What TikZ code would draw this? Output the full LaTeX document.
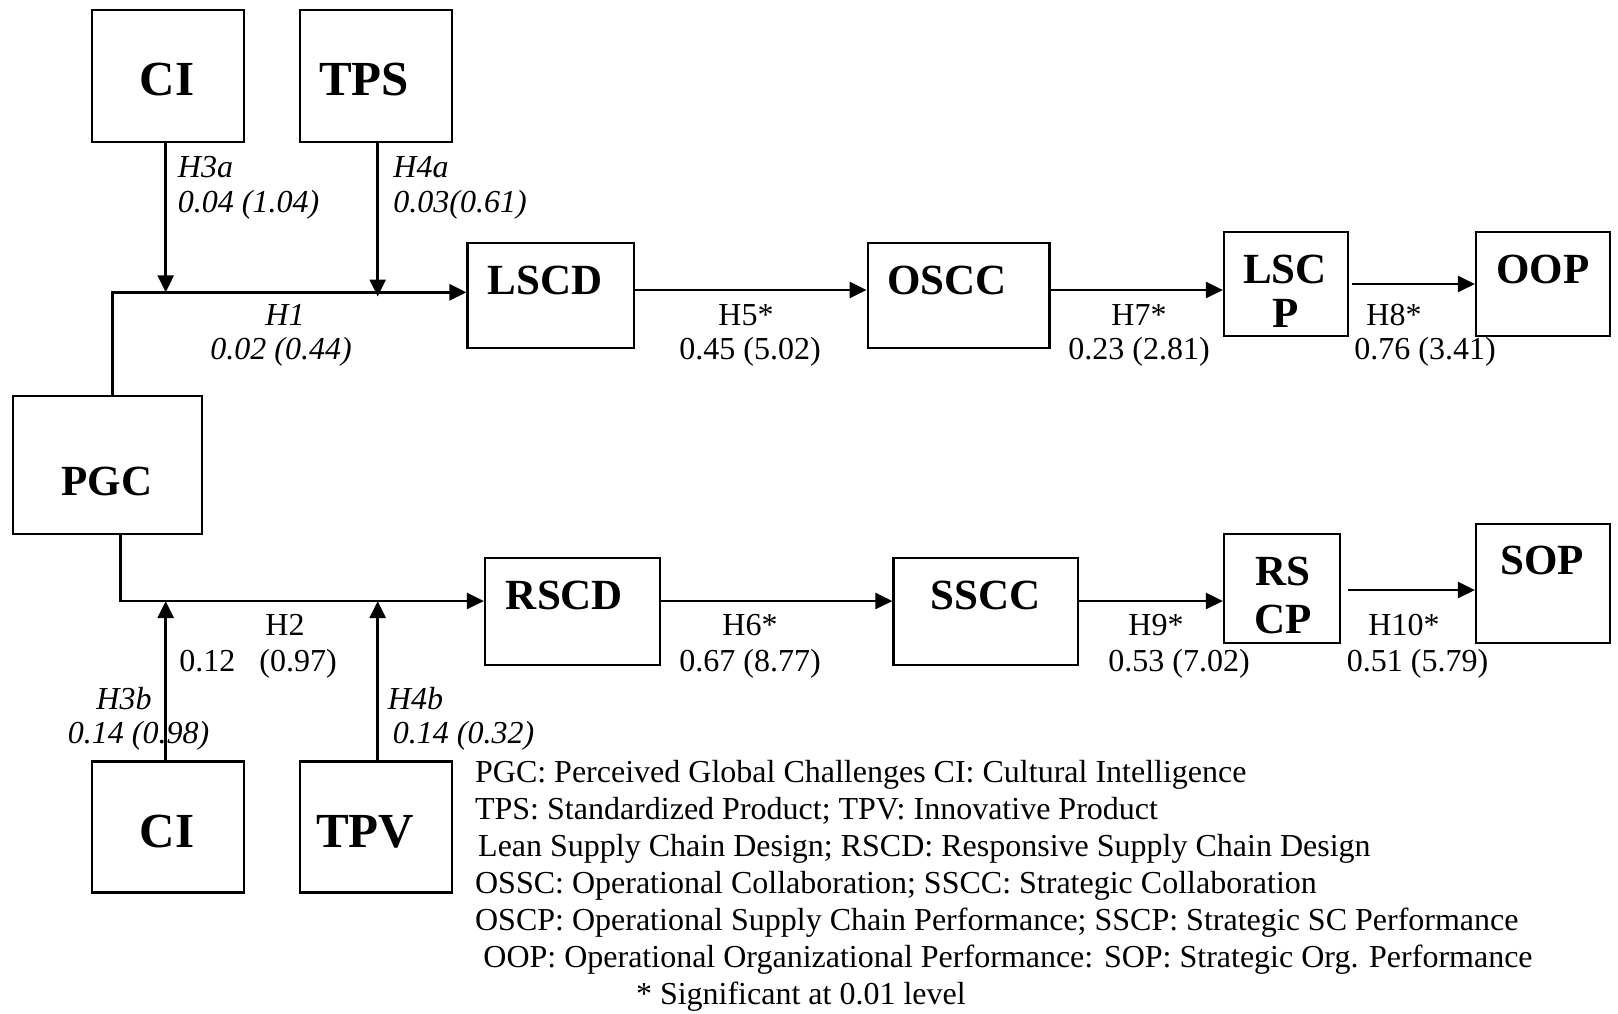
\documentclass[tikz,border=0pt]{standalone}
\usepackage{fontspec}
\setmainfont{Liberation Serif}
\usetikzlibrary{arrows.meta}

\begin{document}
\begin{tikzpicture}[x=0.5pt,y=-0.5pt,
  box/.style={draw, line width=1.1pt, inner sep=0pt},
  btxt/.style={inner sep=0pt, font=\fontsize{21.5}{24}\selectfont\bfseries},
  bigtxt/.style={inner sep=0pt, font=\fontsize{24.5}{28}\selectfont\bfseries},
  lab/.style={inner sep=0pt, font=\fontsize{16}{19}\selectfont},
  ilab/.style={inner sep=0pt, font=\fontsize{16}{19}\selectfont\itshape},
  link/.style={line width=1.35pt},
  arr/.style={link, -{Triangle[length=8.5pt,width=8pt]}}]
\useasboundingbox (0,0) rectangle (1618,1013);

% ---- boxes ----
\node[box, minimum width=76pt,   minimum height=65.85pt] (CIa)  at (168,75.9) {};
\node[box, minimum width=76pt,   minimum height=65.85pt] (TPS)  at (376,75.9) {};
\node[box, minimum width=94.2pt, minimum height=69pt]    (PGC)  at (107.5,465) {};
\node[box, minimum width=83.4pt, minimum height=52.5pt]  (LSCD) at (550.9,295.8) {};
\node[box, minimum width=90.9pt, minimum height=52.5pt]  (OSCC) at (958.6,295.8) {};
\node[box, minimum width=62.15pt,minimum height=51.7pt]  (LSCP) at (1286.15,284) {};
\node[box, minimum width=67pt,   minimum height=51.7pt]  (OOP)  at (1543,284) {};
\node[box, minimum width=87.5pt, minimum height=53.65pt] (RSCD) at (572.5,611.35) {};
\node[box, minimum width=92.05pt,minimum height=53.65pt] (SSCC) at (985.55,611.35) {};
\node[box, minimum width=58pt,   minimum height=54.5pt]  (RSCP) at (1282,588.5) {};
\node[box, minimum width=67pt,   minimum height=59.5pt]  (SOP)  at (1543,583.5) {};
\node[box, minimum width=76pt,   minimum height=65.55pt] (CIb)  at (168,827) {};
\node[box, minimum width=76pt,   minimum height=65.55pt] (TPV)  at (376,827) {};

% ---- box titles ----
\node[bigtxt] (tCIa)  at (167,79.5)  {CI};
\node[bigtxt] (tTPS)  at (364,79.5)  {TPS};
\node[btxt]   (tPGC)  at (107,481)   {PGC};
\node[btxt]   (tLSCD) at (545,280)   {LSCD};
\node[btxt]   (tOSCC) at (947,280.5) {OSCC};
\node[btxt]   (tLSC)  at (1285,269)  {LSC};
\node[btxt]   (tLSCP) at (1286,313)  {P};
\node[btxt]   (tOOP)  at (1543,269)  {OOP};
\node[btxt]   (tRSCD) at (564.5,595.4){RSCD};
\node[btxt]   (tSSCC) at (985.5,595.4){SSCC};
\node[btxt]   (tRS)   at (1283,571)  {RS};
\node[btxt]   (tCP)   at (1283,619)  {CP};
\node[btxt]   (tSOP)  at (1542,560.5){SOP};
\node[bigtxt] (tCIb)  at (167,832)   {CI};
\node[bigtxt] (tTPV)  at (365,832)   {TPV};

% ---- connector junctions ----
\coordinate (j1) at (112.3,292.3);
\coordinate (m1) at (165.7,292.3);
\coordinate (m2) at (377.7,296.5);
\coordinate (r1) at (0,290);
\coordinate (r2) at (0,284);
\coordinate (j2) at (120.7,601);
\coordinate (m3) at (165.7,601);
\coordinate (m4) at (377.7,601);
\coordinate (r3) at (0,601);
\coordinate (r4) at (0,590);

% ---- upper path ----
\draw[arr] (j1 |- PGC.north) -- (j1) -- (j1 -| LSCD.west);
\draw[arr] (m1 |- CIa.south) -- (m1);
\draw[arr] (m2 |- TPS.south) -- (m2);
\draw[arr] (LSCD.east |- r1) -- (OSCC.west |- r1);
\draw[arr] (OSCC.east |- r1) -- (LSCP.west |- r1);
\draw[arr] ([xshift=1.2pt]LSCP.east |- r2) -- (OOP.west |- r2);

% ---- lower path ----
\draw[arr] (j2 |- PGC.south) -- (j2) -- (j2 -| RSCD.west);
\draw[arr] (m3 |- CIb.north) -- (m3);
\draw[arr] (m4 |- TPV.north) -- (m4);
\draw[arr] (RSCD.east |- r3) -- (SSCC.west |- r3);
\draw[arr] (SSCC.east |- r3) -- (RSCP.west |- r3);
\draw[arr] ([xshift=3.3pt]RSCP.east |- r4) -- (SOP.west |- r4);

% ---- path coefficients ----
\node[ilab, anchor=base west] (h3a)  at (177.5,177) {H3a};
\node[ilab, anchor=base west] (v3a)  at (177.5,212) {0.04 (1.04)};
\node[ilab, anchor=base west] (h4a)  at (393,177)   {H4a};
\node[ilab, anchor=base west] (v4a)  at (393,212)   {0.03(0.61)};
\node[ilab, anchor=base]      (h1)   at (285,325)   {H1};
\node[ilab, anchor=base]      (v1)   at (281,359)   {0.02 (0.44)};
\node[lab,  anchor=base]      (h5)   at (746,325)   {H5*};
\node[lab,  anchor=base]      (v5)   at (750,359)   {0.45 (5.02)};
\node[lab,  anchor=base]      (h7)   at (1139,325)  {H7*};
\node[lab,  anchor=base]      (v7)   at (1139,359)  {0.23 (2.81)};
\node[lab,  anchor=base]      (h8)   at (1394,325)  {H8*};
\node[lab,  anchor=base]      (v8)   at (1425,359)  {0.76 (3.41)};

\node[lab,  anchor=base]      (h2)   at (285,635)   {H2};
\node[lab,  anchor=base west] (v2)   at (179,671)   {0.12\hspace{0.75em}(0.97)};
\node[ilab, anchor=base east] (h3b)  at (152,709)   {H3b};
\node[ilab, anchor=base west] (v3b)  at (67.5,743)  {0.14 (0.98)};
\node[ilab, anchor=base west] (h4b)  at (387.5,709) {H4b};
\node[ilab, anchor=base west] (v4b)  at (392.5,743) {0.14 (0.32)};
\node[lab,  anchor=base]      (h6)   at (750,635)   {H6*};
\node[lab,  anchor=base]      (v6)   at (750,671)   {0.67 (8.77)};
\node[lab,  anchor=base]      (h9)   at (1156,635)  {H9*};
\node[lab,  anchor=base]      (v9)   at (1179,671)  {0.53 (7.02)};
\node[lab,  anchor=base]      (h10)  at (1404,635)  {H10*};
\node[lab,  anchor=base]      (v10)  at (1417.5,671){0.51 (5.79)};

% ---- key ----
\node[lab, anchor=base west] (k1) at (474.7,782) {PGC: Perceived Global Challenges CI: Cultural Intelligence};
\node[lab, anchor=base west] (k2) at (474.7,819) {TPS: Standardized Product; TPV: Innovative Product};
\node[lab, anchor=base west] (k3) at (477.8,856) {Lean Supply Chain Design; RSCD: Responsive Supply Chain Design};
\node[lab, anchor=base west] (k4) at (474.7,893) {OSSC: Operational Collaboration; SSCC: Strategic Collaboration};
\node[lab, anchor=base west] (k5) at (474.7,930) {OSCP: Operational Supply Chain Performance; SSCP: Strategic SC Performance};
\node[lab, anchor=base west] (k6) at (483,967)   {OOP: Operational Organizational Performance: SOP: Strategic Org. Performance};
\node[lab, anchor=base west] (k7) at (635.6,1004){* Significant at 0.01 level};
\end{tikzpicture}
\end{document}
